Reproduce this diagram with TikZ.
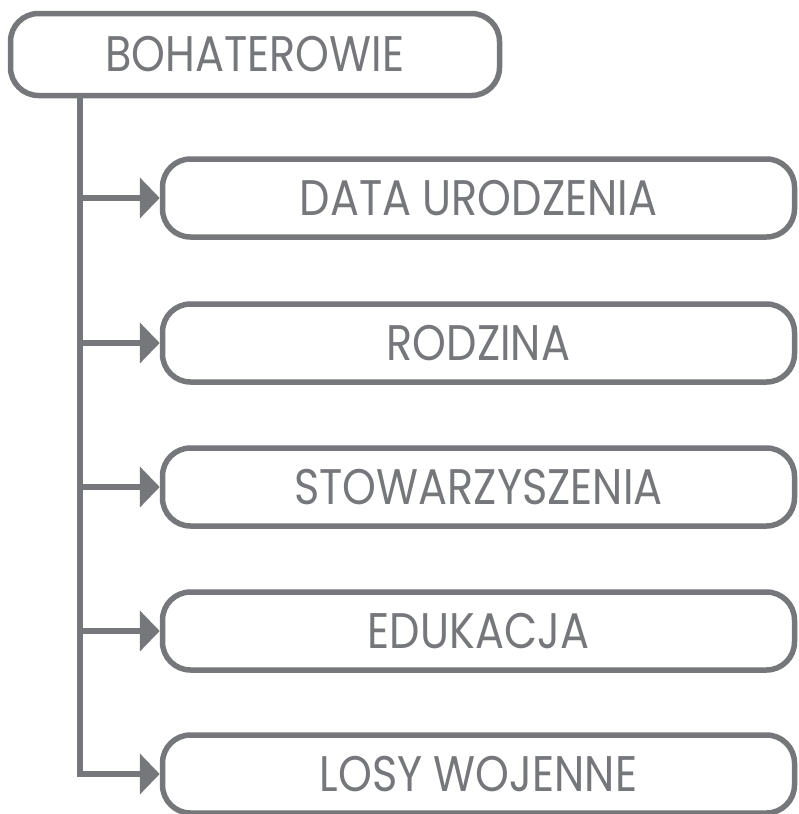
\documentclass[tikz,border=0pt]{standalone}
\usepackage{fontspec}
\setmainfont[FakeStretch=0.86]{Poppins}
\usetikzlibrary{arrows.meta}
\definecolor{ln}{HTML}{76777B}
\tikzset{
  box/.style={draw=ln, line width=5.5pt, rounded corners=28pt, text=ln,
    font=\fontsize{50}{60}\selectfont, inner sep=0pt, anchor=center},
  topbox/.style={box, minimum width=489pt, minimum height=82pt},
  childbox/.style={box, minimum width=632pt, minimum height=78pt},
  link/.style={draw=ln, line width=5.5pt, -{Triangle[length=20pt 0 0,width=40pt 0 0]}},
}
\begin{document}
\begin{tikzpicture}[x=1pt,y=-1pt]
\useasboundingbox (0,0) rectangle (799,814);
\node[topbox] (top) at (255,54.5) {BOHATEROWIE};
\node[childbox] (c1) at (478.5,198) {DATA URODZENIA};
\node[childbox] (c2) at (478.5,343) {RODZINA};
\node[childbox] (c3) at (478.5,487) {STOWARZYSZENIA};
\node[childbox] (c4) at (478.5,631) {EDUKACJA};
\node[childbox] (c5) at (478.5,774) {LOSY WOJENNE};
\coordinate (t0) at (80,95.5);
\coordinate (j1) at (80,198);
\coordinate (j2) at (80,343);
\coordinate (j3) at (80,487);
\coordinate (j4) at (80,631);
\draw[link] (t0) |- (c5.west);
\draw[link] (j1) -- (c1.west);
\draw[link] (j2) -- (c2.west);
\draw[link] (j3) -- (c3.west);
\draw[link] (j4) -- (c4.west);
\end{tikzpicture}
\end{document}
